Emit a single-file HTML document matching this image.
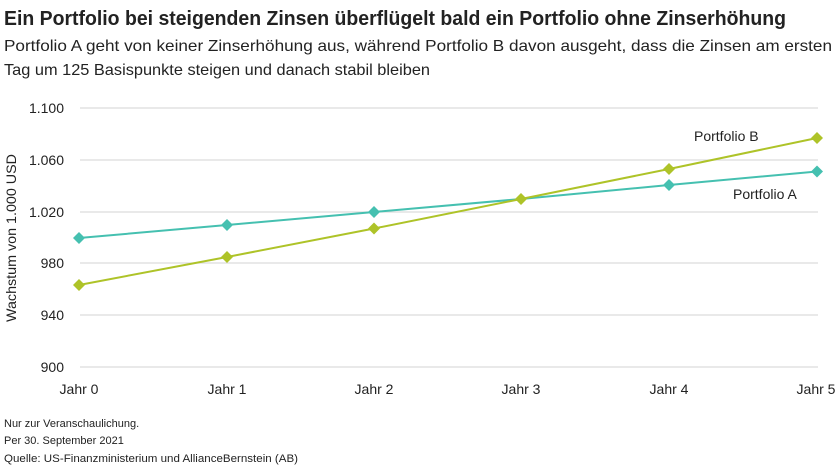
<!DOCTYPE html>
<html><head><meta charset="utf-8"><style>
body{margin:0;background:#fff}
svg{display:block}
text{font-family:"Liberation Sans Narrow","Liberation Sans",sans-serif;fill:#222}
</style></head><body>
<svg width="840" height="468" viewBox="0 0 840 468" xmlns="http://www.w3.org/2000/svg">
<text x="4" y="25" font-size="20" font-weight="bold" textLength="782" lengthAdjust="spacingAndGlyphs">Ein Portfolio bei steigenden Zinsen überflügelt bald ein Portfolio ohne Zinserhöhung</text>
<text x="4" y="51" font-size="16" fill="#333" textLength="828" lengthAdjust="spacingAndGlyphs">Portfolio A geht von keiner Zinserhöhung aus, während Portfolio B davon ausgeht, dass die Zinsen am ersten</text>
<text x="4" y="75" font-size="16" fill="#333" textLength="426" lengthAdjust="spacingAndGlyphs">Tag um 125 Basispunkte steigen und danach stabil bleiben</text>
<g stroke="#dcdcdc" stroke-width="1.2">
<line x1="80" x2="818" y1="108" y2="108"/><line x1="80" x2="818" y1="160" y2="160"/>
<line x1="80" x2="818" y1="212" y2="212"/><line x1="80" x2="818" y1="263" y2="263"/>
<line x1="80" x2="818" y1="315" y2="315"/><line x1="80" x2="818" y1="367" y2="367"/>
</g>
<g font-size="14" text-anchor="end">
<text x="64" y="113">1.100</text><text x="64" y="165">1.060</text><text x="64" y="217">1.020</text>
<text x="64" y="268">980</text><text x="64" y="320">940</text><text x="64" y="372">900</text>
</g>
<text transform="translate(16,238) rotate(-90)" font-size="14" text-anchor="middle" textLength="168" lengthAdjust="spacingAndGlyphs">Wachstum von 1.000 USD</text>
<g font-size="14" text-anchor="middle">
<text x="79" y="394">Jahr 0</text><text x="227" y="394">Jahr 1</text><text x="374" y="394">Jahr 2</text>
<text x="521" y="394">Jahr 3</text><text x="669" y="394">Jahr 4</text><text x="816" y="394">Jahr 5</text>
</g>
<polyline fill="none" stroke="#45c0b0" stroke-width="2" points="79,238 227,225 374,212 521,199 669,185 817,171.5"/>
<polyline fill="none" stroke="#aec328" stroke-width="2" points="79,285 227,257 374,228.5 521,199 669,169 817,138"/>
<g fill="#45c0b0">
<path d="M79,232l6,6l-6,6l-6,-6z"/><path d="M227,219l6,6l-6,6l-6,-6z"/><path d="M374,206l6,6l-6,6l-6,-6z"/>
<path d="M669,179l6,6l-6,6l-6,-6z"/><path d="M817,165.5l6,6l-6,6l-6,-6z"/>
</g>
<g fill="#aec328">
<path d="M79,279l6,6l-6,6l-6,-6z"/><path d="M227,251l6,6l-6,6l-6,-6z"/><path d="M374,222.5l6,6l-6,6l-6,-6z"/>
<path d="M521,193l6,6l-6,6l-6,-6z"/><path d="M669,163l6,6l-6,6l-6,-6z"/><path d="M817,132l6,6l-6,6l-6,-6z"/>
</g>
<text x="694" y="141" font-size="14">Portfolio B</text>
<text x="733" y="199" font-size="14">Portfolio A</text>
<g font-size="11" fill="#333">
<text x="4" y="427">Nur zur Veranschaulichung.</text>
<text x="4" y="444">Per 30. September 2021</text>
<text x="4" y="462" textLength="294" lengthAdjust="spacingAndGlyphs">Quelle: US-Finanzministerium und AllianceBernstein (AB)</text>
</g>
</svg>
</body></html>
